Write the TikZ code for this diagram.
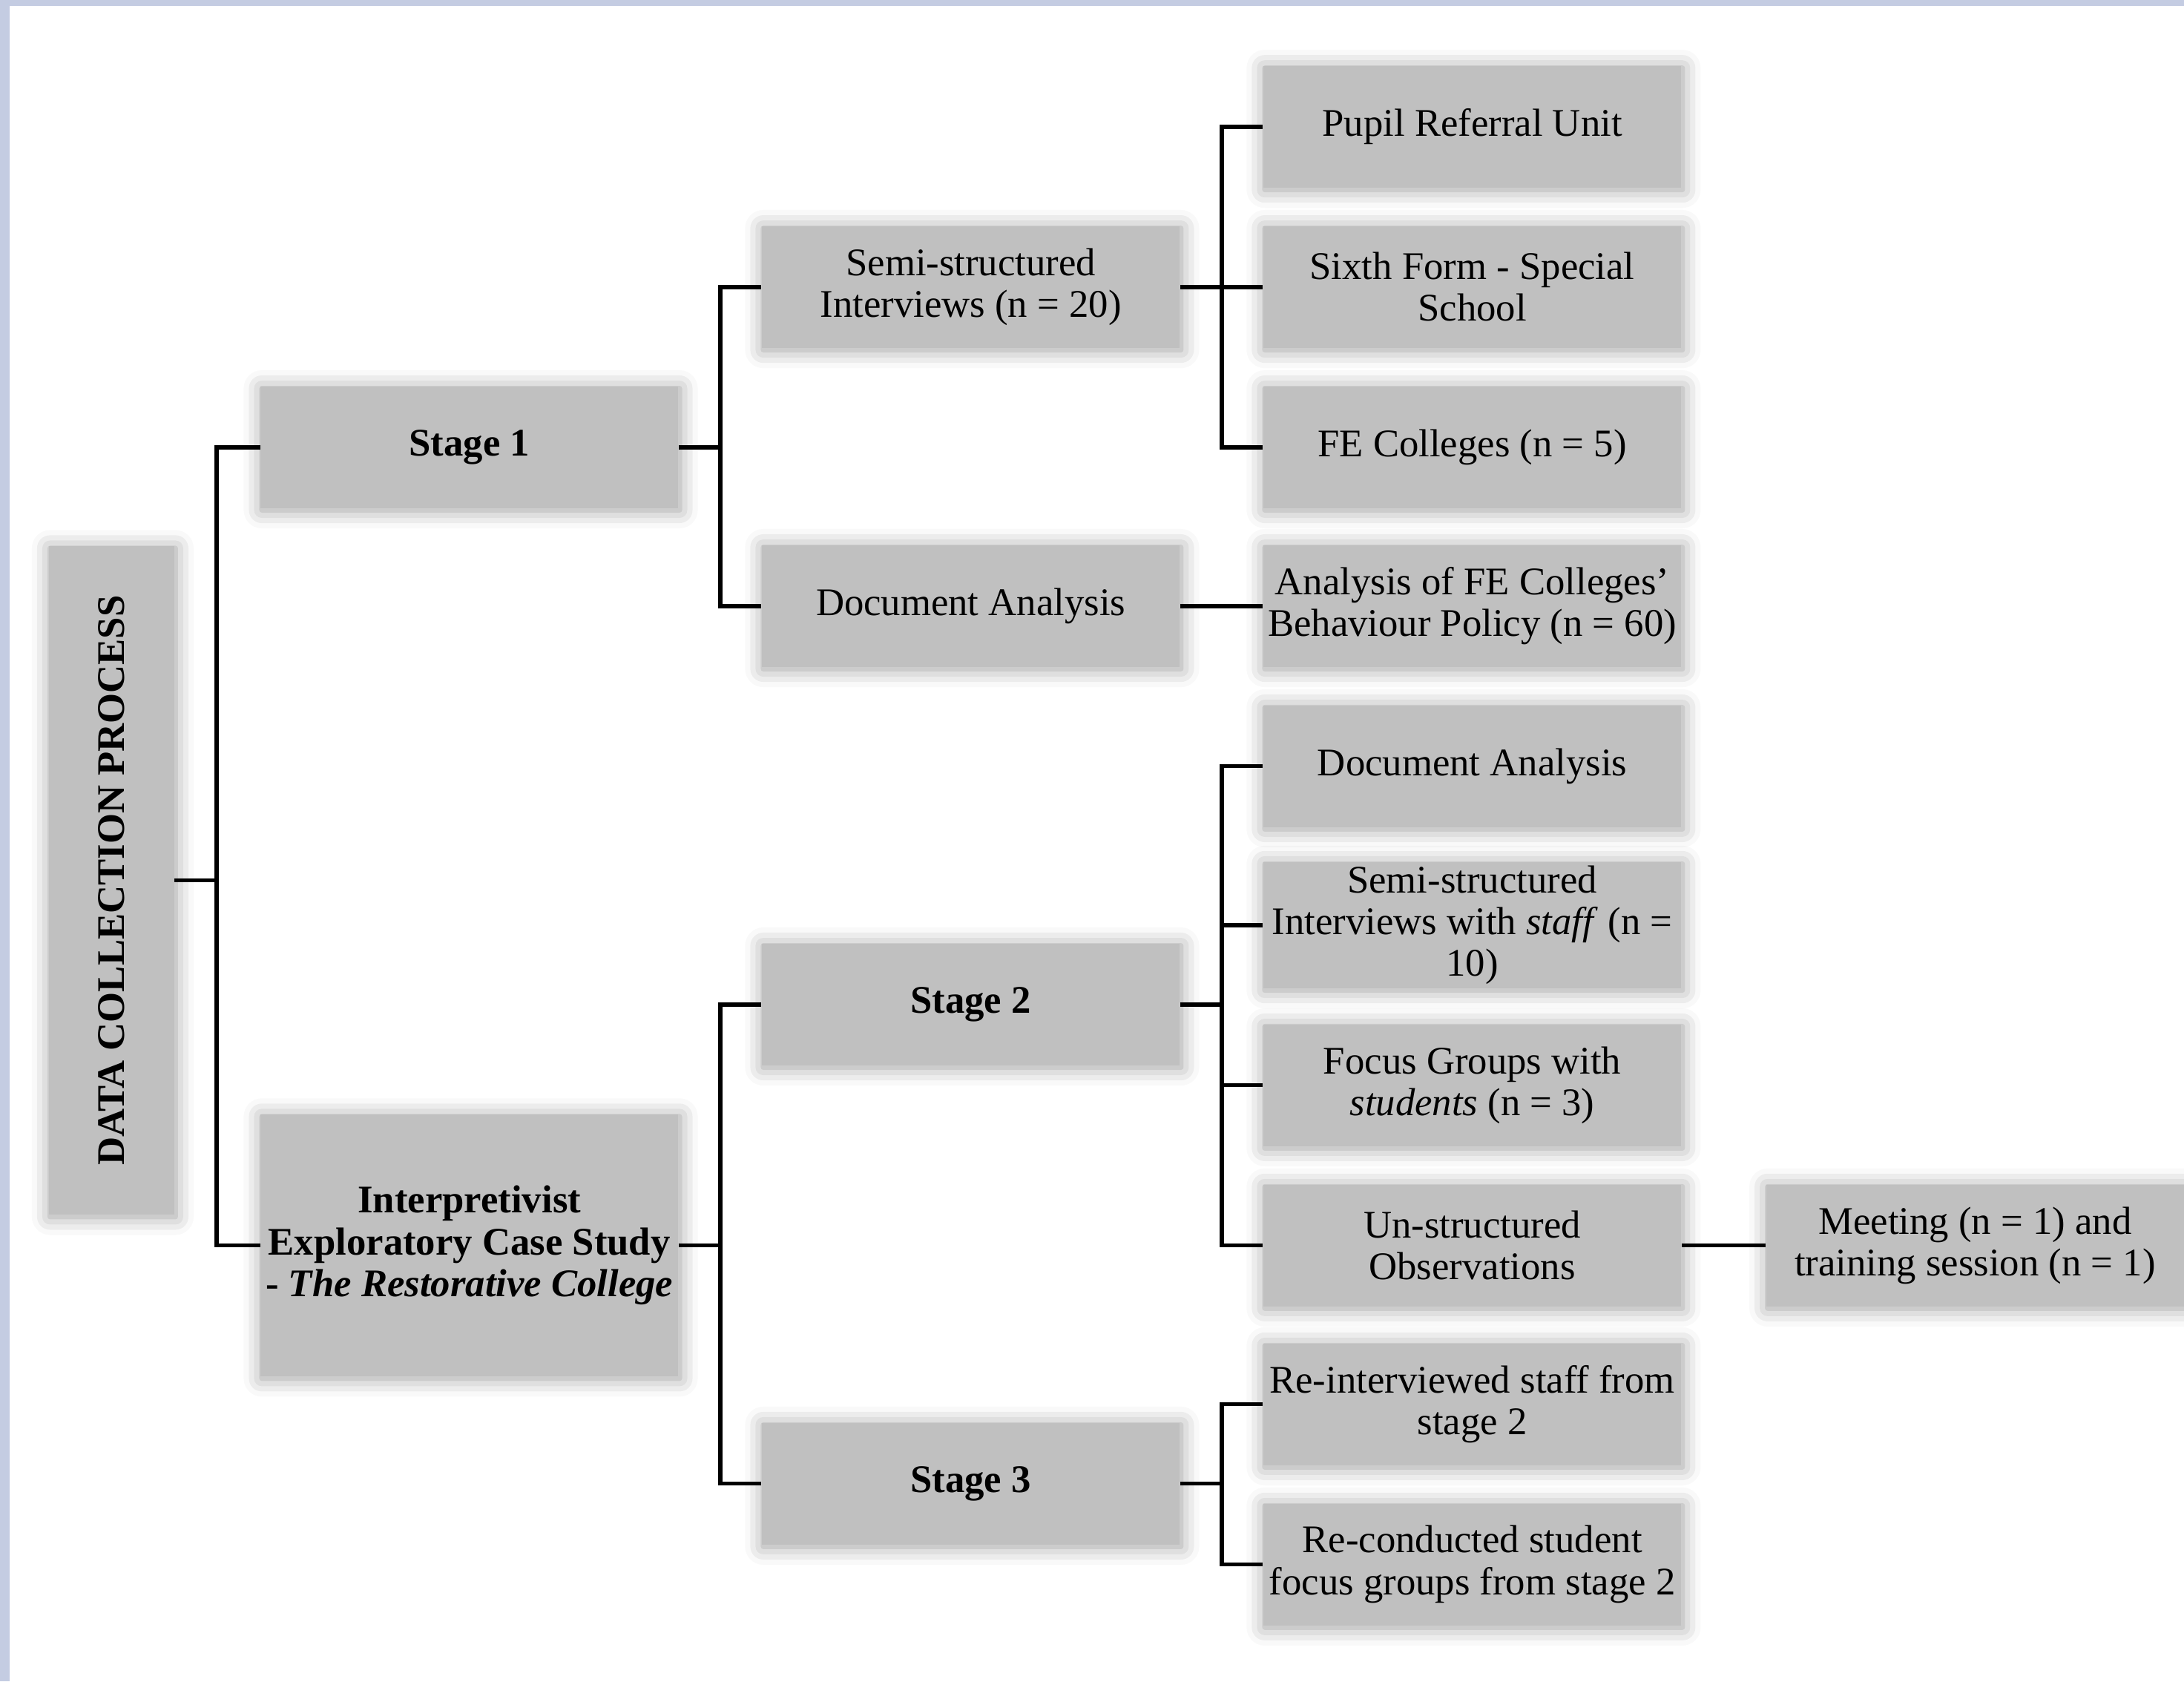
\documentclass[tikz,border=0pt]{standalone}
\usepackage{fontspec}
\usepackage{graphicx}
\setmainfont{Liberation Serif}
\usetikzlibrary{shadows.blur}
\definecolor{boxgray}{RGB}{192,192,192}
\definecolor{edgeblue}{RGB}{196,204,226}
\tikzset{
  box/.style={fill=boxgray, text=black, align=center, inner sep=0.5mm,
    minimum width=56.3mm, minimum height=16.4mm,
    font=\fontsize{15pt}{16pt}\selectfont,
    blur shadow={shadow xshift=0.5pt, shadow yshift=-0.8pt, shadow blur radius=7pt, shadow opacity=40}},
  head/.style={box, font=\fontsize{15pt}{16pt}\selectfont\bfseries},
  link/.style={draw=black, line width=1.6pt}
}
\begin{document}
\begin{tikzpicture}[x=0.18776mm, y=-0.18776mm]
\def\xA{80}
\def\xB{337}
\def\xC{697}
\def\xD{1057}
\def\xE{1418}
\useasboundingbox (0,0) rectangle (1568,1207);
\fill[edgeblue] (0,0) rectangle (1568,4);
\fill[edgeblue] (0,0) rectangle (7,1207);
% root
\node[head, minimum width=16.9mm, minimum height=90.1mm] (root) at (\xA,632) {\rotatebox{90}{DATA COLLECTION PROCESS}};
% second column
\node[head] (stageone) at (\xB,321) {Stage 1};
\node[head, minimum height=35.3mm] (interp) at (\xB,894) {Interpretivist\\Exploratory Case Study\\- \textit{The Restorative College}};
% third column
\node[box] (semi) at (\xC,206) {Semi-structured\\Interviews (n = 20)};
\node[box] (docan) at (\xC,435) {Document Analysis};
\node[head] (stagetwo) at (\xC,721) {Stage 2};
\node[head] (stagethree) at (\xC,1065) {Stage 3};
% fourth column
\node[box] (pru) at (\xD,91) {Pupil Referral Unit};
\node[box] (sixth) at (\xD,206) {Sixth Form - Special\\School};
\node[box] (fecol) at (\xD,321) {FE Colleges (n = 5)};
\node[box] (policy) at (\xD,435) {Analysis of FE Colleges'\\Behaviour Policy (n = 60)};
\node[box] (docantwo) at (\xD,550) {Document Analysis};
\node[box] (semistaff) at (\xD,664) {Semi-structured\\Interviews with \textit{staff} (n =\\10)};
\node[box] (focus) at (\xD,779) {Focus Groups with\\\textit{students} (n = 3)};
\node[box] (unstruct) at (\xD,894) {Un-structured\\Observations};
\node[box] (reint) at (\xD,1008) {Re-interviewed staff from\\stage 2};
\node[box] (recond) at (\xD,1123) {Re-conducted student\\focus groups from stage 2};
% fifth column
\node[box] (meeting) at (\xE,894) {Meeting (n = 1) and\\training session (n = 1)};
% links
\draw[link] (root.east) -- ++(30,0) coordinate (jroot);
\foreach \t in {stageone,interp} \draw[link] (jroot) |- (\t.west);
\draw[link] (stageone.east) -- ++(30,0) coordinate (jone);
\foreach \t in {semi,docan} \draw[link] (jone) |- (\t.west);
\draw[link] (semi.east) -- ++(30,0) coordinate (jsemi);
\foreach \t in {pru,sixth,fecol} \draw[link] (jsemi) |- (\t.west);
\draw[link] (docan) -- (policy);
\draw[link] (interp.east) -- ++(30,0) coordinate (jcase);
\foreach \t in {stagetwo,stagethree} \draw[link] (jcase) |- (\t.west);
\draw[link] (stagetwo.east) -- ++(30,0) coordinate (jtwo);
\foreach \t in {docantwo,semistaff,focus,unstruct} \draw[link] (jtwo) |- (\t.west);
\draw[link] (unstruct) -- (meeting);
\draw[link] (stagethree.east) -- ++(30,0) coordinate (jthree);
\foreach \t in {reint,recond} \draw[link] (jthree) |- (\t.west);
\end{tikzpicture}
\end{document}
